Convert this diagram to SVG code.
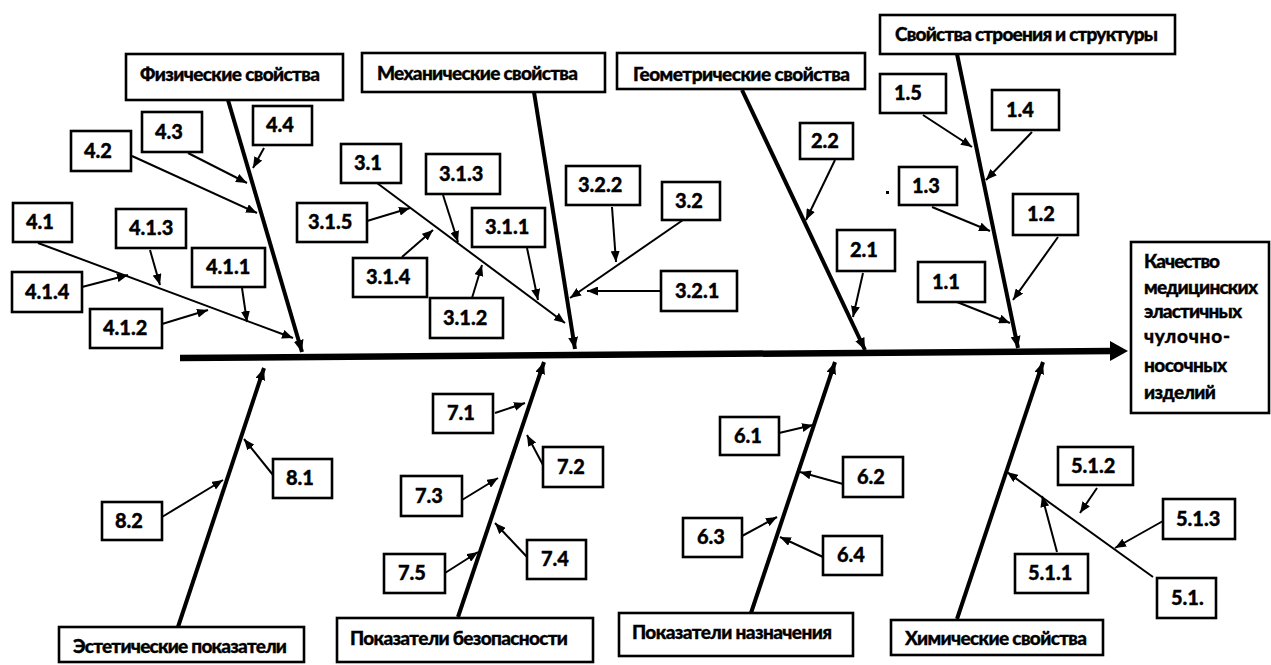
<svg xmlns="http://www.w3.org/2000/svg" width="1271" height="665" viewBox="0 0 1271 665">
<style>
rect.b{fill:#fff;stroke:#000;stroke-width:2.6}
text{font-family:Lato,"Open Sans","Noto Sans","Liberation Sans",sans-serif;font-weight:900;font-size:19px;fill:#000;stroke:#000;stroke-width:0.35}
text.n{font-size:20px}
.sp{stroke:#000;stroke-width:4;fill:none;marker-end:url(#ab)}
.ar{stroke:#000;stroke-width:2;fill:none;marker-end:url(#a)}
</style>
<defs>
<marker id="a" markerUnits="userSpaceOnUse" viewBox="0 0 11 9" refX="11" refY="4.5" markerWidth="11" markerHeight="9" orient="auto"><path d="M0,0 L11,4.5 L0,9 z" fill="#000"/></marker>
<marker id="ab" markerUnits="userSpaceOnUse" viewBox="0 0 12 10" refX="12" refY="5" markerWidth="12" markerHeight="10" orient="auto"><path d="M0,0 L12,5 L0,10 z" fill="#000"/></marker>
</defs>
<rect width="1271" height="665" fill="#fff"/>
<g id="connectors">
<line x1="180" y1="358" x2="1112" y2="351" stroke="#000" stroke-width="6.5"/>
<polygon points="1110,341 1128,351 1110,361" fill="#000"/>
<line class="sp" x1="228" y1="100" x2="302" y2="352"/>
<line class="sp" x1="534" y1="92" x2="575" y2="349"/>
<line class="sp" x1="742" y1="90" x2="865" y2="350"/>
<line class="sp" x1="957" y1="54" x2="1018" y2="348"/>
<line class="sp" x1="178" y1="627" x2="264" y2="368"/>
<line class="sp" x1="458" y1="617" x2="544" y2="362"/>
<line class="sp" x1="751" y1="613" x2="835" y2="362"/>
<line class="sp" x1="957" y1="619" x2="1043" y2="362"/>
<line class="ar" x1="38" y1="243" x2="293" y2="338"/>
<line class="ar" x1="377" y1="183" x2="565" y2="323"/>
<line class="ar" x1="1153" y1="577" x2="1007" y2="472"/>
<line class="ar" x1="188" y1="153" x2="247" y2="183"/>
<line class="ar" x1="264" y1="148" x2="253" y2="168"/>
<line class="ar" x1="132" y1="156" x2="257" y2="213"/>
<line class="ar" x1="82" y1="287" x2="128" y2="275"/>
<line class="ar" x1="150" y1="250" x2="160" y2="285"/>
<line class="ar" x1="242" y1="288" x2="247" y2="322"/>
<line class="ar" x1="162" y1="324" x2="208" y2="310"/>
<line class="ar" x1="367" y1="221" x2="410" y2="208"/>
<line class="ar" x1="443" y1="195" x2="458" y2="242"/>
<line class="ar" x1="402" y1="257" x2="433" y2="230"/>
<line class="ar" x1="472" y1="298" x2="482" y2="265"/>
<line class="ar" x1="527" y1="248" x2="538" y2="300"/>
<line class="ar" x1="612" y1="207" x2="616" y2="262"/>
<line class="ar" x1="683" y1="220" x2="570" y2="298"/>
<line class="ar" x1="661" y1="291" x2="587" y2="291"/>
<line class="ar" x1="835" y1="160" x2="806" y2="220"/>
<line class="ar" x1="863" y1="273" x2="853" y2="317"/>
<line class="ar" x1="923" y1="115" x2="972" y2="147"/>
<line class="ar" x1="1032" y1="132" x2="986" y2="180"/>
<line class="ar" x1="932" y1="207" x2="990" y2="231"/>
<line class="ar" x1="1058" y1="237" x2="1013" y2="300"/>
<line class="ar" x1="957" y1="302" x2="1010" y2="323"/>
<line class="ar" x1="273" y1="475" x2="244" y2="439"/>
<line class="ar" x1="162" y1="517" x2="223" y2="480"/>
<line class="ar" x1="495" y1="413" x2="525" y2="403"/>
<line class="ar" x1="543" y1="465" x2="527" y2="435"/>
<line class="ar" x1="462" y1="500" x2="498" y2="478"/>
<line class="ar" x1="527" y1="557" x2="495" y2="523"/>
<line class="ar" x1="445" y1="573" x2="478" y2="552"/>
<line class="ar" x1="779" y1="433" x2="813" y2="425"/>
<line class="ar" x1="843" y1="484" x2="800" y2="472"/>
<line class="ar" x1="742" y1="536" x2="777" y2="517"/>
<line class="ar" x1="823" y1="557" x2="780" y2="537"/>
<line class="ar" x1="1097" y1="488" x2="1080" y2="513"/>
<line class="ar" x1="1163" y1="521" x2="1115" y2="548"/>
<line class="ar" x1="1057" y1="552" x2="1042" y2="496"/>
<rect x="886" y="191" width="3" height="3" fill="#000"/>
</g>
<g id="main"><rect class="b" x="1131" y="242" width="138" height="171"/>
<text x="1144" y="268" textLength="76">Качество</text>
<text x="1144" y="294" textLength="114">медицинских</text>
<text x="1144" y="318" textLength="98">эластичных</text>
<text x="1144" y="343" textLength="86">чулочно-</text>
<text x="1144" y="372" textLength="83">носочных</text>
<text x="1144" y="399" textLength="72">изделий</text></g>
<g id="phys"><rect class="b" x="126" y="54" width="217" height="46"/><text x="140" y="81" textLength="180">Физические свойства</text></g>
<g id="mech"><rect class="b" x="362" y="53" width="243" height="39"/><text x="377" y="80" textLength="201">Механические свойства</text></g>
<g id="geom"><rect class="b" x="617" y="53" width="248" height="36"/><text x="633" y="81" textLength="217">Геометрические свойства</text></g>
<g id="struct"><rect class="b" x="880" y="15" width="295" height="39"/><text x="895" y="41" textLength="263">Свойства строения и структуры</text></g>
<g id="est"><rect class="b" x="59" y="627" width="245" height="35"/><text x="73" y="653" textLength="214">Эстетические показатели</text></g>
<g id="safety"><rect class="b" x="337" y="618" width="256" height="44"/><text x="350" y="645" textLength="218">Показатели безопасности</text></g>
<g id="purpose"><rect class="b" x="619" y="613" width="234" height="43"/><text x="632" y="639" textLength="200">Показатели назначения</text></g>
<g id="chem"><rect class="b" x="891" y="620" width="212" height="35"/><text x="905" y="645" textLength="182">Химические свойства</text></g>
<g id="n4_1"><rect class="b" x="13" y="203" width="59" height="39"/><text class="n" x="26" y="229">4.1</text></g>
<g id="n4_2"><rect class="b" x="71" y="131" width="60" height="40"/><text class="n" x="84" y="158">4.2</text></g>
<g id="n4_3"><rect class="b" x="142" y="112" width="60" height="40"/><text class="n" x="155" y="139">4.3</text></g>
<g id="n4_4"><rect class="b" x="253" y="106" width="59" height="39"/><text class="n" x="266" y="132">4.4</text></g>
<g id="n4_1_1"><rect class="b" x="192" y="248" width="73" height="39"/><text class="n" x="206" y="274">4.1.1</text></g>
<g id="n4_1_2"><rect class="b" x="90" y="309" width="72" height="39"/><text class="n" x="103" y="335">4.1.2</text></g>
<g id="n4_1_3"><rect class="b" x="116" y="209" width="70" height="39"/><text class="n" x="129" y="235">4.1.3</text></g>
<g id="n4_1_4"><rect class="b" x="12" y="272" width="70" height="40"/><text class="n" x="25" y="299">4.1.4</text></g>
<g id="n3_1"><rect class="b" x="341" y="144" width="60" height="39"/><text class="n" x="354" y="170">3.1</text></g>
<g id="n3_1_1"><rect class="b" x="472" y="208" width="73" height="39"/><text class="n" x="485" y="234">3.1.1</text></g>
<g id="n3_1_2"><rect class="b" x="430" y="298" width="73" height="40"/><text class="n" x="443" y="325">3.1.2</text></g>
<g id="n3_1_3"><rect class="b" x="426" y="154" width="74" height="40"/><text class="n" x="439" y="181">3.1.3</text></g>
<g id="n3_1_4"><rect class="b" x="353" y="258" width="74" height="39"/><text class="n" x="366" y="284">3.1.4</text></g>
<g id="n3_1_5"><rect class="b" x="297" y="203" width="70" height="39"/><text class="n" x="308" y="229">3.1.5</text></g>
<g id="n3_2"><rect class="b" x="662" y="182" width="58" height="38"/><text class="n" x="675" y="208">3.2</text></g>
<g id="n3_2_1"><rect class="b" x="661" y="271" width="76" height="40"/><text class="n" x="675" y="298">3.2.1</text></g>
<g id="n3_2_2"><rect class="b" x="566" y="166" width="74" height="39"/><text class="n" x="578" y="192">3.2.2</text></g>
<g id="n2_1"><rect class="b" x="837" y="230" width="58" height="41"/><text class="n" x="850" y="257">2.1</text></g>
<g id="n2_2"><rect class="b" x="800" y="123" width="53" height="36"/><text class="n" x="811" y="148">2.2</text></g>
<g id="n1_1"><rect class="b" x="918" y="262" width="67" height="40"/><text class="n" x="932" y="289">1.1</text></g>
<g id="n1_2"><rect class="b" x="1013" y="194" width="65" height="41"/><text class="n" x="1027" y="221">1.2</text></g>
<g id="n1_3"><rect class="b" x="899" y="167" width="58" height="38"/><text class="n" x="912" y="193">1.3</text></g>
<g id="n1_4"><rect class="b" x="992" y="90" width="67" height="40"/><text class="n" x="1006" y="117">1.4</text></g>
<g id="n1_5"><rect class="b" x="880" y="74" width="66" height="39"/><text class="n" x="894" y="100">1.5</text></g>
<g id="n8_1"><rect class="b" x="273" y="459" width="59" height="39"/><text class="n" x="286" y="485">8.1</text></g>
<g id="n8_2"><rect class="b" x="102" y="502" width="60" height="38"/><text class="n" x="115" y="528">8.2</text></g>
<g id="n7_1"><rect class="b" x="433" y="394" width="60" height="39"/><text class="n" x="447" y="420">7.1</text></g>
<g id="n7_2"><rect class="b" x="543" y="447" width="60" height="40"/><text class="n" x="557" y="474">7.2</text></g>
<g id="n7_3"><rect class="b" x="401" y="476" width="61" height="40"/><text class="n" x="415" y="503">7.3</text></g>
<g id="n7_4"><rect class="b" x="527" y="540" width="59" height="39"/><text class="n" x="541" y="566">7.4</text></g>
<g id="n7_5"><rect class="b" x="384" y="554" width="61" height="39"/><text class="n" x="398" y="580">7.5</text></g>
<g id="n6_1"><rect class="b" x="720" y="417" width="59" height="38"/><text class="n" x="734" y="443">6.1</text></g>
<g id="n6_2"><rect class="b" x="843" y="457" width="60" height="40"/><text class="n" x="857" y="484">6.2</text></g>
<g id="n6_3"><rect class="b" x="683" y="518" width="59" height="39"/><text class="n" x="697" y="544">6.3</text></g>
<g id="n6_4"><rect class="b" x="823" y="536" width="59" height="39"/><text class="n" x="837" y="562">6.4</text></g>
<g id="n5_1"><rect class="b" x="1157" y="578" width="59" height="40"/><text class="n" x="1171" y="605">5.1.</text></g>
<g id="n5_1_1"><rect class="b" x="1015" y="554" width="73" height="39"/><text class="n" x="1028" y="580">5.1.1</text></g>
<g id="n5_1_2"><rect class="b" x="1058" y="447" width="75" height="38"/><text class="n" x="1071" y="473">5.1.2</text></g>
<g id="n5_1_3"><rect class="b" x="1163" y="499" width="72" height="40"/><text class="n" x="1176" y="526">5.1.3</text></g>
</svg>
